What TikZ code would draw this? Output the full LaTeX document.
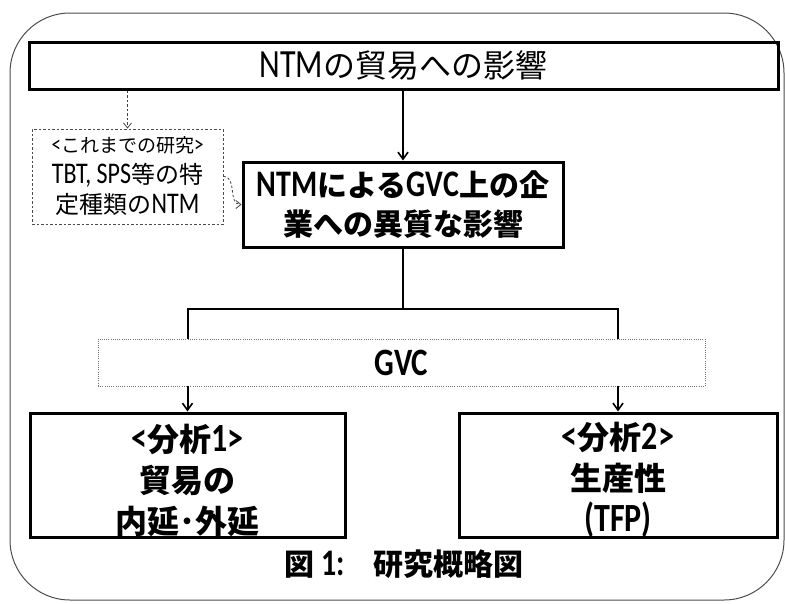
\documentclass[tikz,border=0pt]{standalone}
\usepackage{fontspec}
\setmainfont{Carlito}[Scale=1.25, FakeStretch=0.8]
\newfontfamily\jp{Noto Sans CJK JP}
\newcommand{\J}[1]{{\jp #1}}
\usetikzlibrary{arrows.meta}
\tikzset{
  frame/.style={draw=black!70, line width=1pt, rounded corners=60pt},
  solidbox/.style={draw=black, line width=3pt, inner sep=0pt, align=center},
  smallbox/.style={draw=black!70, line width=0.9pt, dash pattern=on 2.5pt off 2pt, inner sep=0pt, align=center},
  gvcbox/.style={draw=black!55, line width=0.8pt, dash pattern=on 1pt off 1.2pt, inner sep=0pt, align=center},
  boxtext/.style={inner sep=0pt, align=center, font=\bfseries\fontsize{32}{41}\selectfont},
  conn/.style={draw=black, line width=2pt},
  arr/.style={conn, -{Straight Barb[length=7pt,width=10pt,line width=1.6pt]}},
  dasharr/.style={draw=black!75, line width=0.8pt, dash pattern=on 2.5pt off 2pt, -{Straight Barb[length=5pt,width=8pt,line width=0.8pt]}},
}
\begin{document}
\begin{tikzpicture}[x=1pt,y=-1pt]
\useasboundingbox (0,0) rectangle (785,603);
\draw[frame] (10,13) rectangle (784,600);

\node[solidbox, minimum width=749pt, minimum height=47pt,
      font=\fontsize{32}{38}\selectfont] (top) at (403.5,65.5) {NTM\J{の貿易への影響}};

\node[smallbox, minimum width=191pt, minimum height=95pt,
      font=\fontsize{24}{28}\selectfont] (prev) at (127.5,176.5)
  {{\fontsize{19}{28}\selectfont <\J{これまでの研究}>}\\[3pt]
   TBT, SPS\J{等の特}\\[2pt]
   \J{定種類の}NTM};

\node[solidbox, minimum width=320pt, minimum height=85pt,
      font=\bfseries\fontsize{30}{39}\selectfont] (mid) at (403,204.5)
  {NTM\J{による}GVC\J{上の企}\\\J{業への異質な影響}};

\node[gvcbox, minimum width=607pt, minimum height=47pt,
      font=\bfseries\fontsize{31}{36}\selectfont] (gvc) at (401.5,362.5) {GVC};

\node[solidbox, minimum width=315pt, minimum height=124pt] (a1) at (187.5,475) {};
\node[boxtext] (a1t) at ([yshift=-5pt]a1.center)
  {<\J{分析}1>\\\J{貿易の}\\\J{内延･外延}};

\node[solidbox, minimum width=318pt, minimum height=124pt] (a2) at (618,475) {};
\node[boxtext] (a2t) at ([yshift=-5pt]a2.center)
  {<\J{分析}2>\\\J{生産性}\\(TFP)};

\node[font=\bfseries\fontsize{30}{36}\selectfont] (cap) at (404,564)
  {\J{図} 1:\hspace{28pt}\J{研究概略図}};

\coordinate (sp) at (403,309);

\draw[arr] (mid.north |- top.south) -- (mid.north);
\draw[dasharr] (prev.north |- top.south) -- (prev.north);
\draw[dasharr] (prev.east) .. controls +(14,0) and +(-14,0) .. (mid.west);
\draw[conn] (mid.south) -- (sp);
\draw[conn] (a1.north |- gvc.north) |- (sp) -| (a2.north |- gvc.north);
\draw[arr] (a1.north |- gvc.south) -- (a1.north);
\draw[arr] (a2.north |- gvc.south) -- (a2.north);
\end{tikzpicture}
\end{document}
